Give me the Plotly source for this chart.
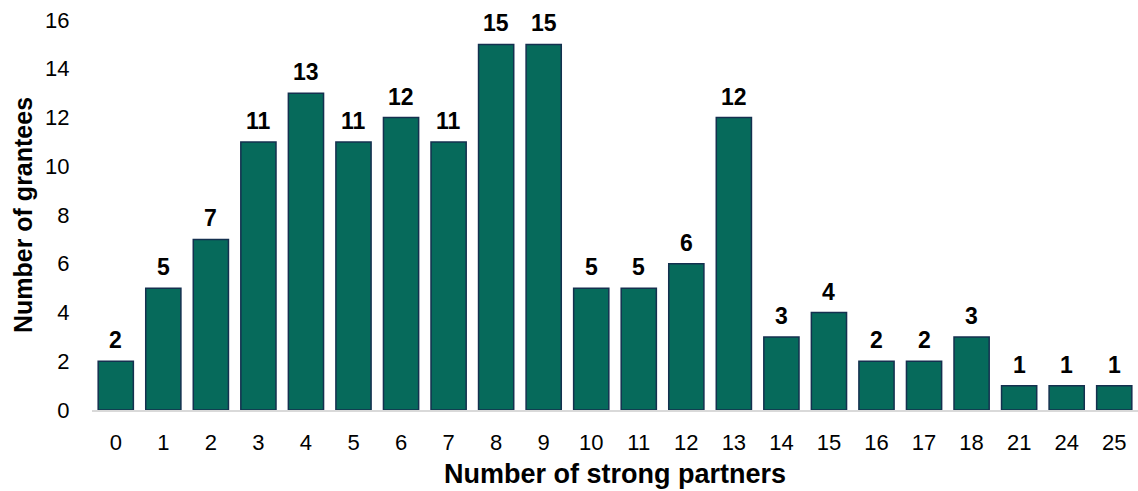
import plotly.graph_objects as go

partners = ["0", "1", "2", "3", "4", "5", "6", "7", "8", "9", "10", "11", "12",
            "13", "14", "15", "16", "17", "18", "21", "24", "25"]
grantees = [2, 5, 7, 11, 13, 11, 12, 11, 15, 15, 5, 5, 6, 12, 3, 4, 2, 2, 3, 1, 1, 1]
y_ticks = [0, 2, 4, 6, 8, 10, 12, 14, 16]

FONT = "Liberation Sans, Arial, sans-serif"

fig = go.Figure()
fig.add_trace(go.Bar(
    x=partners, y=grantees,
    marker=dict(color="#066a5b", line=dict(color="#14304f", width=1.5)),
    width=0.74,
    hoverinfo="x+y",
))

for i, val in enumerate(grantees):
    fig.add_annotation(x=i, y=val, xref="x", yref="y", text=f"<b>{val}</b>", showarrow=False,
                       yanchor="bottom", yshift=6,
                       font=dict(family=FONT, size=23, color="#000000"))

fig.update_layout(
    width=1138, height=491,
    margin=dict(l=92, r=0, t=20, b=81),
    paper_bgcolor="white", plot_bgcolor="white",
    showlegend=False,
    font=dict(family=FONT, color="#000000"),
    xaxis=dict(
        type="category",
        title=dict(text="<b>Number of strong partners</b>", font=dict(size=27, family=FONT), standoff=10),
        tickfont=dict(size=22, family=FONT),
        ticks="outside", ticklen=12, tickcolor="rgba(0,0,0,0)",
        showline=True, linecolor="#d9d9d9", linewidth=2,
        showgrid=False, zeroline=False,
    ),
    yaxis=dict(
        range=[0, 16],
        tickvals=y_ticks,
        title=dict(text="<b>Number of grantees</b>", font=dict(size=25, family=FONT), standoff=5),
        tickfont=dict(size=22, family=FONT),
        ticks="outside", ticklen=17, tickcolor="rgba(0,0,0,0)",
        showline=False, showgrid=False, zeroline=False,
    ),
)

fig.write_html("out.html")
